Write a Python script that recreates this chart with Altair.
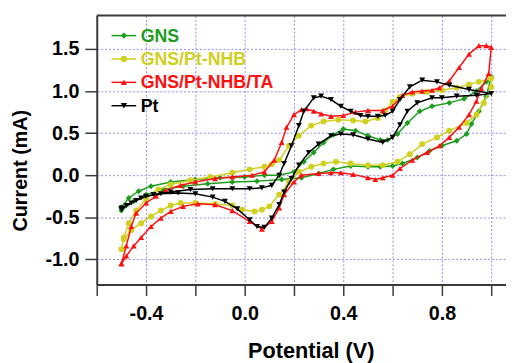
import altair as alt
import pandas as pd

# ---------------- data ----------------
series_names = ["GNS", "GNS/Pt-NHB", "GNS/Pt-NHB/TA", "Pt"]
series_colors = ["#1c9e1c", "#d0d020", "#ff1010", "#000000"]
series_shapes = ["diamond", "circle", "triangle-up", "triangle-down"]

# GNS (green) - closed loop: upper branch to +1.0 V, then back to -0.5 V
gns_v = [-0.50, -0.47, -0.43, -0.38, -0.30, -0.20, -0.10, 0.00, 0.08, 0.14, 0.20, 0.24, 0.28, 0.32,
         0.36, 0.40, 0.45, 0.50, 0.55, 0.58, 0.62, 0.66, 0.71, 0.76, 0.83, 0.89, 0.94, 0.98, 1.00,
         0.98, 0.95, 0.92, 0.90, 0.86, 0.80, 0.75, 0.70, 0.64, 0.60, 0.55, 0.50, 0.43, 0.36, 0.30,
         0.23, 0.15, 0.05, -0.05, -0.15, -0.25, -0.33, -0.40, -0.45, -0.50]
gns_i = [-0.38, -0.27, -0.19, -0.13, -0.08, -0.05, -0.03, -0.02, 0.00, 0.00, 0.04, 0.16, 0.27, 0.39,
         0.48, 0.55, 0.53, 0.47, 0.42, 0.42, 0.49, 0.62, 0.76, 0.82, 0.86, 0.91, 1.00, 1.11, 1.17,
         0.94, 0.76, 0.61, 0.49, 0.41, 0.35, 0.29, 0.21, 0.14, 0.11, 0.10, 0.10, 0.11, 0.07, 0.02,
         -0.03, -0.05, -0.07, -0.08, -0.10, -0.13, -0.17, -0.23, -0.31, -0.42]

# GNS/Pt-NHB (yellow)
nhb_v = [-0.50, -0.49, -0.47, -0.44, -0.40, -0.35, -0.30, -0.22, -0.14, -0.05, 0.02, 0.08, 0.11, 0.14,
         0.18, 0.22, 0.27, 0.32, 0.38, 0.44, 0.49, 0.54, 0.57, 0.60, 0.63, 0.68, 0.74, 0.80, 0.86,
         0.91, 0.95, 1.00,
         1.00, 0.97, 0.94, 0.90, 0.83, 0.78, 0.72, 0.67, 0.62, 0.56, 0.50, 0.43, 0.37, 0.32, 0.27,
         0.22, 0.18, 0.14, 0.10, 0.07, 0.04, -0.01, -0.05, -0.12, -0.20, -0.26, -0.30, -0.34, -0.38,
         -0.42, -0.46, -0.49]
nhb_i = [-0.88, -0.74, -0.57, -0.42, -0.28, -0.17, -0.11, -0.06, -0.02, 0.03, 0.07, 0.10, 0.13, 0.18,
         0.35, 0.47, 0.59, 0.64, 0.66, 0.65, 0.64, 0.68, 0.77, 0.87, 0.93, 0.97, 0.99, 1.01, 1.04,
         1.08, 1.11, 1.15,
         1.05, 0.86, 0.72, 0.62, 0.53, 0.45, 0.37, 0.25, 0.16, 0.12, 0.12, 0.14, 0.16, 0.14, 0.10,
         0.04, -0.08, -0.23, -0.37, -0.41, -0.43, -0.41, -0.36, -0.34, -0.33, -0.33, -0.36, -0.42, -0.49,
         -0.57, -0.65, -0.76]

# GNS/Pt-NHB/TA (red)
ta_v = [-0.50, -0.48, -0.46, -0.44, -0.40, -0.36, -0.32, -0.26, -0.20, -0.12, -0.05, 0.03, 0.08, 0.12,
        0.15, 0.17, 0.20, 0.23, 0.25, 0.28, 0.31, 0.35, 0.40, 0.45, 0.50, 0.56, 0.60, 0.64, 0.68,
        0.72, 0.76, 0.79, 0.83, 0.87, 0.91, 0.95, 0.98, 1.00,
        0.99, 0.96, 0.94, 0.91, 0.87, 0.83, 0.79, 0.74, 0.68, 0.63, 0.60, 0.56, 0.53, 0.50, 0.44,
        0.39, 0.35, 0.30, 0.23, 0.20, 0.16, 0.14, 0.11, 0.07, 0.02, -0.05, -0.12, -0.19, -0.25,
        -0.30, -0.34, -0.38, -0.42, -0.45, -0.48, -0.50]
ta_i = [-1.05, -0.84, -0.61, -0.45, -0.33, -0.25, -0.18, -0.12, -0.08, -0.04, -0.02, 0.00, 0.04, 0.18,
        0.39, 0.57, 0.72, 0.78, 0.79, 0.76, 0.73, 0.70, 0.71, 0.75, 0.77, 0.77, 0.82, 0.95, 0.99,
        1.00, 1.01, 1.04, 1.12, 1.28, 1.44, 1.54, 1.54, 1.52,
        1.21, 1.03, 0.88, 0.72, 0.57, 0.45, 0.35, 0.27, 0.18, 0.08, 0.00, -0.03, -0.05, -0.03, 0.01,
        0.03, 0.03, 0.02, 0.00, -0.08, -0.23, -0.39, -0.55, -0.64, -0.55, -0.42, -0.35, -0.34, -0.37,
        -0.43, -0.51, -0.61, -0.74, -0.84, -0.96, -1.05]

# Pt (black)
pt_v = [-0.50, -0.46, -0.42, -0.37, -0.30, -0.22, -0.13, -0.05, 0.02, 0.07, 0.11, 0.14, 0.16, 0.19,
        0.22, 0.24, 0.28, 0.31, 0.35, 0.39, 0.43, 0.47, 0.50, 0.54, 0.57, 0.60, 0.63, 0.67, 0.72,
        0.78, 0.83, 0.91, 1.00,
        0.94, 0.86, 0.80, 0.76, 0.70, 0.66, 0.63, 0.60, 0.56, 0.50, 0.44, 0.39, 0.35, 0.30, 0.26,
        0.22, 0.19, 0.16, 0.14, 0.11, 0.08, 0.05, 0.02, -0.03, -0.08, -0.13, -0.20, -0.27, -0.34,
        -0.40, -0.44, -0.48, -0.50]
pt_i = [-0.39, -0.33, -0.27, -0.23, -0.20, -0.17, -0.16, -0.16, -0.16, -0.15, -0.12, 0.00, 0.14, 0.35,
        0.59, 0.76, 0.92, 0.94, 0.90, 0.82, 0.76, 0.71, 0.70, 0.70, 0.71, 0.76, 0.90, 1.05, 1.13,
        1.11, 1.07, 1.02, 0.97,
        0.95, 0.94, 0.92, 0.92, 0.86, 0.76, 0.60, 0.45, 0.39, 0.43, 0.48, 0.49, 0.47, 0.37, 0.27,
        0.12, -0.04, -0.20, -0.35, -0.51, -0.62, -0.61, -0.53, -0.40, -0.31, -0.26, -0.22, -0.21, -0.22,
        -0.25, -0.30, -0.36, -0.41]

x_ticks = [-0.6, -0.4, -0.2, 0.0, 0.2, 0.4, 0.6, 0.8, 1.0]
y_ticks = [-1.0, -0.5, 0.0, 0.5, 1.0, 1.5]
x_domain = [-0.6, 1.06]
y_domain = [-1.3, 1.9]

# ---------------- chart ----------------
W, H = 415, 273
FONT = "Liberation Sans"
AXIS_COLOR = "#3a3a3a"
GRID_COLOR = "#8c8cf0"

x_enc = alt.X(
    "V:Q",
    scale=alt.Scale(domain=x_domain, nice=False, zero=False),
    axis=alt.Axis(
        values=x_ticks,
        labelExpr="round(datum.value*10) % 4 == 0 ? ((datum.value < 0 ? '-' : '') + format(abs(datum.value), '.1f')) : ''",
        title="Potential (V)",
        grid=True, gridColor=GRID_COLOR, gridDash=[2, 2], gridWidth=1,
        domainColor=AXIS_COLOR, domainWidth=2,
        tickColor=AXIS_COLOR, tickWidth=1.5, tickSize=11,
        labelFont=FONT, labelFontSize=20, labelFontWeight="bold", labelColor="#000000",
        labelPadding=8, labelFlush=False, labelOverlap=False,
        titleFont=FONT, titleFontSize=22, titleFontWeight="bold", titleColor="#000000",
        titleX=217, titleY=74, titleBaseline="alphabetic", titleAlign="center",
    ),
)
y_enc = alt.Y(
    "I:Q",
    scale=alt.Scale(domain=y_domain, nice=False, zero=False),
    axis=alt.Axis(
        values=y_ticks,
        labelExpr="(datum.value < 0 ? '-' : '') + format(abs(datum.value), '.1f')",
        title="Current (mA)",
        grid=True, gridColor=GRID_COLOR, gridDash=[2, 2], gridWidth=1,
        domainColor=AXIS_COLOR, domainWidth=2,
        tickColor=AXIS_COLOR, tickWidth=1.5, tickSize=12,
        labelFont=FONT, labelFontSize=20, labelFontWeight="bold", labelColor="#000000",
        labelPadding=6, labelFlush=False, labelOverlap=False,
        titleFont=FONT, titleFontSize=20, titleFontWeight="bold", titleColor="#000000",
        titleX=-71, titleY=157, titleBaseline="alphabetic", titleAlign="center", titleAngle=270,
    ),
)

all_v = [gns_v, nhb_v, ta_v, pt_v]
all_i = [gns_i, nhb_i, ta_i, pt_i]

layers = []
for v, i, color, shape in zip(all_v, all_i, series_colors, series_shapes):
    df = pd.DataFrame({"V": v, "I": i, "k": list(range(len(v)))})
    layers.append(
        alt.Chart(df).mark_line(
            color=color, strokeWidth=1.5,
            point=alt.OverlayMarkDef(shape=shape, filled=True, color=color, size=36, opacity=1),
        ).encode(x=x_enc, y=y_enc, order=alt.Order("k:Q"))
    )

# top frame line
one = pd.DataFrame({"a": [0]})
layers.append(
    alt.Chart(one).mark_rule(color=AXIS_COLOR, strokeWidth=2).encode(
        x=alt.value(0), x2=alt.value(W + 5), y=alt.value(0)
    )
)

# manual legend with coloured labels
for idx, (name, color, shape) in enumerate(zip(series_names, series_colors, series_shapes)):
    yy = 20.5 + idx * 23.7
    d = pd.DataFrame({"name": [name]})
    layers.append(
        alt.Chart(d).mark_rule(color=color, strokeWidth=1.5).encode(
            x=alt.value(15), x2=alt.value(40), y=alt.value(yy)
        )
    )
    layers.append(
        alt.Chart(d).mark_point(shape=shape, filled=True, color=color, size=40, opacity=1).encode(
            x=alt.value(27.5), y=alt.value(yy)
        )
    )
    layers.append(
        alt.Chart(d).mark_text(
            align="left", baseline="middle", font=FONT, fontSize=18, fontWeight="bold", color=color
        ).encode(x=alt.value(44.5), y=alt.value(yy + 1), text="name:N")
    )

chart = (
    alt.layer(*layers)
    .properties(
        width=W,
        height=H,
        autosize=alt.AutoSizeParams(type="none"),
        padding={"left": 90, "top": 5, "right": 0, "bottom": 77},
        background="#ffffff",
    )
    .configure_view(stroke=None)
)

chart.save("out.html", embed_options={"renderer": "svg", "actions": False})
